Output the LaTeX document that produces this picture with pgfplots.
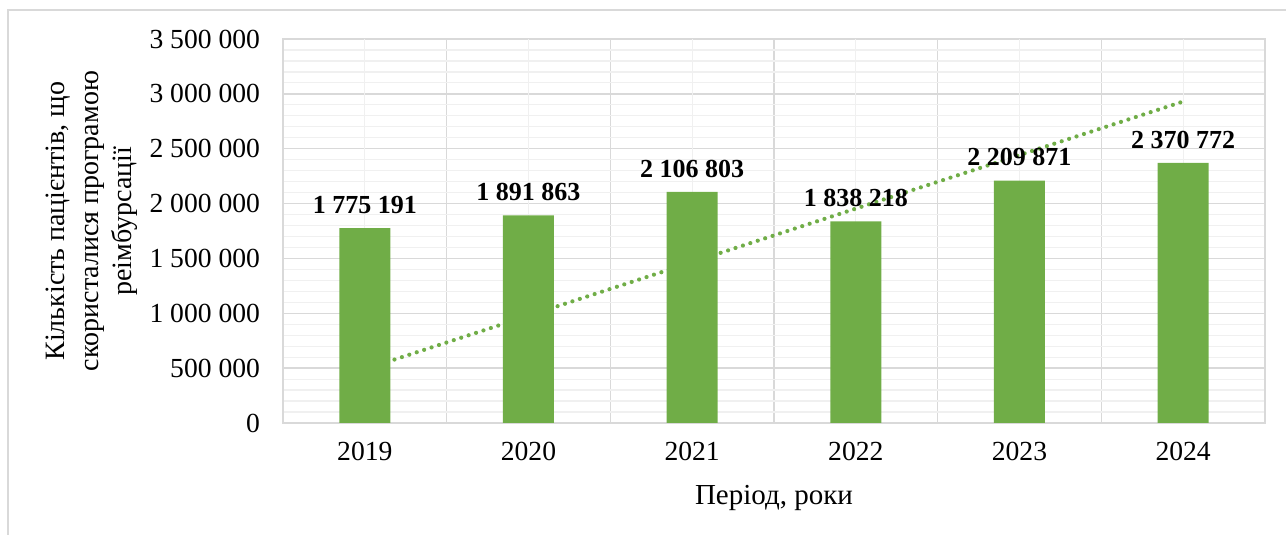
\documentclass[border=0pt]{standalone}
\usepackage{pgfplots}
\pgfplotsset{compat=1.18}
\usepackage{fontspec}
\setmainfont{Liberation Serif}
\definecolor{barg}{HTML}{70AD47}
\definecolor{gmaj}{HTML}{D9D9D9}
\definecolor{gmin}{HTML}{F0F0F0}
\begin{document}
\begin{tikzpicture}[x=1pt,y=1pt]
\path[use as bounding box] (-141.5,-56) rectangle (501.5,211.5);
\draw[gmaj, line width=0.8pt] (-137.5,-60) -- (-137.5,206.5) -- (510,206.5);
\begin{axis}[
  at={(0,0)}, anchor=south west,
  scale only axis, width=491pt, height=192pt,
  xmin=-0.5, xmax=5.5, ymin=0, ymax=3500000,
  xtick={-0.5,0.5,...,5.5}, xticklabels={},
  extra x ticks={0,1,2,3,4,5},
  extra x tick labels={2019,2020,2021,2022,2023,2024},
  extra x tick style={grid=major, major grid style={gmin, line width=0.6pt}},
  ytick={0,500000,...,3500000},
  minor y tick num=4,
  xmajorgrids, ymajorgrids, yminorgrids,
  major grid style={gmaj, line width=0.7pt},
  minor grid style={gmin, line width=0.6pt},
  major tick length=0pt, minor tick length=0pt,
  axis line style={gmaj, line width=0.8pt},
  scaled y ticks=false,
  /pgf/number format/.cd, fixed, 1000 sep={\ }, assume math mode=true, /pgfplots/.cd,
  tick label style={font=\fontsize{13.8pt}{16pt}\selectfont, text=black},
  yticklabel style={xshift=-8pt},
  xticklabel style={yshift=-6pt},
  ylabel={Кількість пацієнтів, що\\скористалися програмою\\реімбурсації},
  ylabel style={at={(axis description cs:-0.1945,0.526)}, anchor=center, rotate=0,
    align=center, font=\fontsize{14pt}{16.8pt}\selectfont},
  xlabel={Період, роки},
  xlabel style={at={(axis description cs:0.5,-0.195)}, anchor=center,
    font=\fontsize{14.5pt}{17pt}\selectfont},
]
\addplot[barg, line width=2.1pt, dash pattern=on 0pt off 3.9pt, line cap=round]
  coordinates {(0,490000) (5,2930000)};
\addplot[ybar, bar width=25.5pt, fill=barg, draw=none,
  nodes near coords,
  nodes near coords style={font=\bfseries\fontsize{13pt}{15pt}\selectfont, text=black,
    anchor=south, inner sep=0pt, yshift=7pt,
    /pgf/number format/.cd, fixed, 1000 sep={\ }, assume math mode=true}]
  coordinates {(0,1775191) (1,1891863) (2,2106803) (3,1838218) (4,2209871) (5,2370772)};
\end{axis}
\end{tikzpicture}
\end{document}
